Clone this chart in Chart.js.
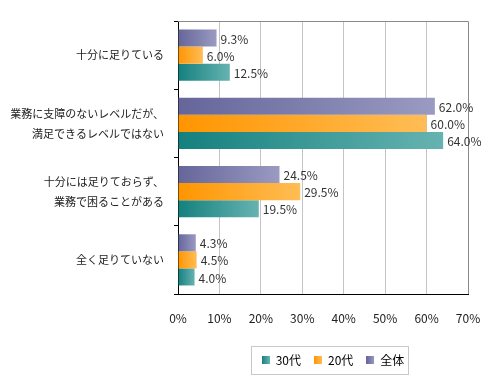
<!DOCTYPE html>
<html>
<head>
<meta charset="utf-8">
<script src="https://cdn.jsdelivr.net/npm/chart.js@4.4.1/dist/chart.umd.min.js"></script>
<style>
  html, body { margin: 0; padding: 0; background: #fff; }
  #wrap { width: 500px; height: 390px; }
</style>
</head>
<body>
<div id="wrap"><canvas id="chart"></canvas></div>
<script>
// データ
const categories = [
    ['十分に足りている'],
    ['業務に支障のないレベルだが、', '満足できるレベルではない'],
    ['十分には足りておらず、', '業務で困ることがある'],
    ['全く足りていない']
];
const seriesNames = ['全体', '20代', '30代'];
const allValues = [9.3, 62.0, 24.5, 4.3];
const age20Values = [6.0, 60.0, 29.5, 4.5];
const age30Values = [12.5, 64.0, 19.5, 4.0];
const xTickValues = [0, 10, 20, 30, 40, 50, 60, 70];

const FONT = "'Noto Sans CJK JP', 'Noto Sans', sans-serif";

// 棒ごとのグラデーション（左が濃く右が薄い）
function barGradient(c0, c1) {
    return (ctx) => {
        const chart = ctx.chart;
        if (!chart.chartArea || ctx.type !== 'data') return c0;
        const x = chart.scales.x;
        const x0 = x.getPixelForValue(0);
        const x1 = Math.max(x.getPixelForValue(ctx.raw), x0 + 1);
        const g = chart.ctx.createLinearGradient(x0, 0, x1, 0);
        g.addColorStop(0, c0);
        g.addColorStop(1, c1);
        return g;
    };
}

const styles = [
    { from: '#65659a', to: '#9a9ac2' },
    { from: '#ff9500', to: '#ffbd55' },
    { from: '#14807e', to: '#66b3b1' }
];
const seriesValues = [allValues, age20Values, age30Values];

// 凡例用の小さいグラデーション四角
function swatch(s) {
    const c = document.createElement('canvas');
    c.width = 8; c.height = 8;
    const g2 = c.getContext('2d');
    const g = g2.createLinearGradient(0, 0, 8, 0);
    g.addColorStop(0, s.from);
    g.addColorStop(1, s.to);
    g2.fillStyle = g;
    g2.fillRect(0, 0, 8, 8);
    return c;
}

// 値ラベル
const valueLabels = {
    id: 'valueLabels',
    afterDatasetsDraw(chart) {
        const ctx = chart.ctx;
        ctx.save();
        ctx.font = '12px ' + FONT;
        ctx.fillStyle = '#333';
        ctx.textBaseline = 'middle';
        ctx.textAlign = 'left';
        chart.data.datasets.forEach((ds, i) => {
            chart.getDatasetMeta(i).data.forEach((bar, j) => {
                ctx.fillText(ds.data[j].toFixed(1) + '%', bar.x + 4, bar.y + 1);
            });
        });
        ctx.restore();
    }
};

// 枠線（上と右はグレー）と凡例の位置・枠
const frame = {
    id: 'frame',
    afterLayout(chart) {
        // 凡例をプロット領域の下に寄せる
        const lg = chart.legend;
        const a = chart.chartArea;
        const w = lg.right - lg.left;
        const shift = (a.left + a.right) / 2 + 10 - (lg.left + w / 2);
        lg.left += shift;
        lg.right += shift;
    },
    beforeDatasetsDraw(chart) {
        const { ctx, chartArea: a } = chart;
        ctx.save();
        ctx.strokeStyle = '#8a8a8a';
        ctx.lineWidth = 1;
        ctx.beginPath();
        ctx.moveTo(a.left, a.top + 0.5);
        ctx.lineTo(a.right + 0.5, a.top + 0.5);
        ctx.lineTo(a.right + 0.5, a.bottom);
        ctx.stroke();
        ctx.restore();
    },
    afterDraw(chart) {
        const boxes = chart.legend.legendHitBoxes;
        if (!boxes || !boxes.length) return;
        const minX = Math.min(...boxes.map(b => b.left));
        const maxX = Math.max(...boxes.map(b => b.left + b.width));
        const top = boxes[0].top;
        const h = boxes[0].height;
        const ctx = chart.ctx;
        ctx.save();
        ctx.strokeStyle = '#c8c8c8';
        ctx.lineWidth = 1;
        ctx.strokeRect(Math.round(minX - 11) + 0.5, Math.round(top - 8) + 0.5,
                       Math.round(maxX - minX + 14), Math.round(h + 16));
        ctx.restore();
    }
};

new Chart(document.getElementById('chart'), {
    type: 'bar',
    data: {
        labels: categories,
        datasets: seriesNames.map((name, i) => ({
            label: name,
            data: seriesValues[i],
            backgroundColor: barGradient(styles[i].from, styles[i].to),
            borderWidth: 0,
            barPercentage: 1.0,
            categoryPercentage: 0.75
        }))
    },
    options: {
        indexAxis: 'y',
        responsive: true,
        maintainAspectRatio: false,
        animation: false,
        layout: { padding: { left: 0, right: 32, top: 21, bottom: 14 } },
        scales: {
            x: {
                min: 0,
                max: 70,
                afterBuildTicks: (s) => { s.ticks = xTickValues.map(v => ({ value: v })); },
                afterFit: (s) => { s.height = 47; },
                ticks: {
                    color: '#222',
                    font: { size: 12, family: FONT },
                    padding: 17,
                    callback: (v) => v + '%'
                },
                grid: {
                    color: (c) => c.tick && c.tick.value === 70 ? 'rgba(0,0,0,0)' : '#c4c4c4',
                    drawTicks: false
                },
                border: { color: '#000', width: 1 }
            },
            y: {
                afterFit: (s) => { s.width = 178; },
                ticks: {
                    color: '#222',
                    font: { size: 11, family: FONT, lineHeight: 1.82 },
                    padding: 10
                },
                grid: {
                    offset: true,
                    drawOnChartArea: false,
                    tickLength: 4,
                    color: '#000'
                },
                border: { color: '#000', width: 1 }
            }
        },
        plugins: {
            legend: {
                position: 'bottom',
                reverse: true,
                labels: {
                    usePointStyle: true,
                    boxWidth: 8,
                    boxHeight: 8,
                    padding: 13,
                    color: '#222',
                    font: { size: 12, family: FONT },
                    generateLabels: (chart) => chart.data.datasets.map((ds, i) => ({
                        text: ds.label,
                        pointStyle: swatch(styles[i]),
                        fillStyle: styles[i].from,
                        strokeStyle: styles[i].from,
                        lineWidth: 0,
                        datasetIndex: i
                    }))
                }
            },
            tooltip: { enabled: false }
        }
    },
    plugins: [valueLabels, frame]
});
</script>
</body>
</html>
